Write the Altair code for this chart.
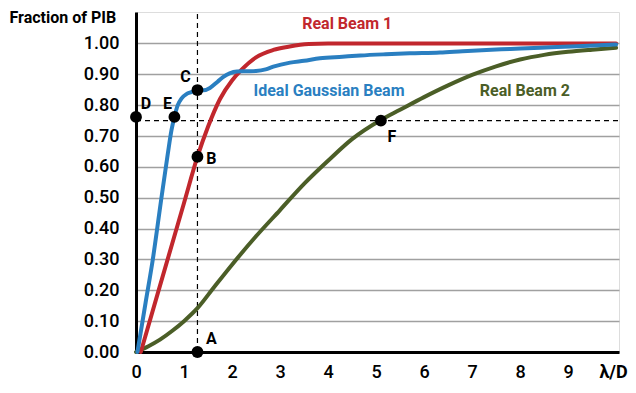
import altair as alt
import pandas as pd

# ---------------- data ----------------
blue_x = [0.03, 0.2, 0.35, 0.53, 0.66, 0.74, 0.80, 0.87, 0.95, 1.05, 1.15, 1.28, 1.4, 1.54, 1.7, 1.82, 1.95, 2.1, 2.3, 2.5, 2.7, 2.86, 3.21, 3.5, 3.83, 4.3, 4.67, 5.2, 5.7, 6.33, 6.8, 7.3, 7.8, 8.42, 9.2, 10.0]
blue_y = [0.0, 0.16, 0.3, 0.5, 0.64, 0.72, 0.762, 0.80, 0.822, 0.836, 0.842, 0.849, 0.848, 0.856, 0.876, 0.892, 0.903, 0.909, 0.91, 0.911, 0.916, 0.925, 0.938, 0.944, 0.952, 0.957, 0.961, 0.965, 0.968, 0.971, 0.975, 0.979, 0.982, 0.986, 0.991, 0.997]

red_x = [0.1, 0.5, 1.0, 1.28, 1.5, 1.75, 2.0, 2.2, 2.5, 2.86, 3.2, 3.6, 4.0, 5.0, 6.0, 7.0, 8.0, 9.0, 10.0]
red_y = [0.0, 0.215, 0.483, 0.633, 0.73, 0.82, 0.88, 0.915, 0.955, 0.979, 0.99, 0.998, 1.0, 1.0, 1.0, 1.0, 1.0, 1.0, 1.0]

green_x = [0.0, 0.25, 0.5, 0.75, 1.0, 1.28, 1.6, 2.0, 2.5, 3.0, 3.5, 4.0, 4.5, 5.1, 5.5, 6.0, 6.5, 7.0, 7.5, 8.0, 8.5, 9.0, 9.5, 10.0]
green_y = [0.0, 0.018, 0.04, 0.068, 0.1, 0.142, 0.205, 0.283, 0.375, 0.46, 0.545, 0.62, 0.69, 0.752, 0.785, 0.826, 0.864, 0.898, 0.926, 0.948, 0.963, 0.973, 0.98, 0.986]

series_names = ["Real Beam 1", "Ideal Gaussian Beam", "Real Beam 2"]
series_label_x = [4.4, 4.02, 8.1]
series_label_y = [1.062, 0.845, 0.847]

point_names = ["A", "B", "C", "D", "E", "F"]
point_x = [1.28, 1.28, 1.28, 0.0, 0.80, 5.10]
point_y = [0.0, 0.633, 0.849, 0.762, 0.762, 0.750]

guide_x = 1.28      # vertical dashed guide through A, B, C
guide_y = 0.75      # horizontal dashed guide through F

y_ticks = [0.0, 0.1, 0.2, 0.3, 0.4, 0.5, 0.6, 0.7, 0.8, 0.9, 1.0]
x_ticks = [0, 1, 2, 3, 4, 5, 6, 7, 8, 9, 10]

# ---------------- style ----------------
FONT = "Roboto"
RED = "#c1272d"
BLUE = "#2a7fc1"
GREEN = "#4b5e27"

X_MAX = 10.06
Y_MAX = 1.102

xscale = alt.Scale(domain=[0, X_MAX], nice=False, zero=False)
yscale = alt.Scale(domain=[0, Y_MAX], nice=False, zero=False)

xaxis = alt.Axis(
    values=x_ticks, grid=False, ticks=False, domain=True, domainColor="black",
    domainWidth=3, labelFont=FONT, labelFontSize=18, labelColor="black",
    labelFontWeight={"condition": {"test": "datum.value == 10", "value": "bold"}, "value": 500},
    labelOffset={"condition": {"test": "datum.value == 10", "value": -3}, "value": 0},
    labelPadding=11, labelExpr="datum.value == 10 ? 'λ/D' : datum.label",
    title=None, labelFlush=False,
)
yaxis = alt.Axis(
    values=y_ticks, format=".2f", grid=True, gridColor="#a0a0a0", gridWidth=1.5,
    ticks=False, domain=True, domainColor="black", domainWidth=3,
    labelFont=FONT, labelFontSize=18, labelFontWeight=500, labelColor="black", labelPadding=17,
    title="Fraction of PIB", titleFont=FONT, titleFontSize=16, titleFontWeight="bold",
    titleColor="black", titleAngle=0, titleAlign="left", titleBaseline="middle",
    titleX=-127, titleY=5,
)


def X(field="x"):
    return alt.X(f"{field}:Q", scale=xscale, axis=xaxis)


def Y(field="y"):
    return alt.Y(f"{field}:Q", scale=yscale, axis=yaxis)


def curve(xs, ys, color):
    df = pd.DataFrame({"x": xs, "y": ys})
    return alt.Chart(df).mark_line(
        color=color, strokeWidth=4, interpolate="monotone", strokeCap="round"
    ).encode(x=X(), y=Y())


layers = []

# dashed guides
vdf = pd.DataFrame({"x": [guide_x], "y": [0.0], "y2": [Y_MAX]})
layers.append(
    alt.Chart(vdf).mark_rule(color="black", strokeWidth=1.2, strokeDash=[5, 4]).encode(
        x=X(), y=Y(), y2="y2:Q")
)
hdf = pd.DataFrame({"x": [0.0], "x2": [X_MAX], "y": [guide_y]})
layers.append(
    alt.Chart(hdf).mark_rule(color="black", strokeWidth=1.2, strokeDash=[5, 4]).encode(
        x=X(), x2="x2:Q", y=Y())
)

layers.append(curve(green_x, green_y, GREEN))
layers.append(curve(red_x, red_y, RED))
layers.append(curve(blue_x, blue_y, BLUE))

# series labels
for name, lx, ly, col in zip(series_names, series_label_x, series_label_y, [RED, BLUE, GREEN]):
    df = pd.DataFrame({"x": [lx], "y": [ly], "t": [name]})
    layers.append(
        alt.Chart(df).mark_text(font=FONT, fontSize=16, fontWeight="bold", color=col,
                                align="center", baseline="middle").encode(
            x=X(), y=Y(), text="t:N")
    )

# points
pdf = pd.DataFrame({"x": point_x, "y": point_y, "t": point_names})
layers.append(
    alt.Chart(pdf).mark_point(filled=True, color="black", size=140, opacity=1, shape="circle").encode(
        x=X(), y=Y())
)

label_offsets = {"A": (14, -13), "B": (14, 2), "C": (-12, -13), "D": (10, -13), "E": (-7, -13), "F": (11, 16)}
for name, px, py in zip(point_names, point_x, point_y):
    dx, dy = label_offsets[name]
    df = pd.DataFrame({"x": [px], "y": [py], "t": [name]})
    layers.append(
        alt.Chart(df).mark_text(font=FONT, fontSize=16, fontWeight="bold", color="black",
                                align="center", baseline="middle", dx=dx, dy=dy).encode(
            x=X(), y=Y(), text="t:N")
    )

chart = alt.layer(*layers).properties(
    width=483, height=340,
    autosize=alt.AutoSizeParams(type="none"),
    padding={"left": 128, "top": 4, "right": 9, "bottom": 33},
).configure_view(stroke="black", strokeWidth=2.5).configure(background="white")

chart.save("out.html", embed_options={"renderer": "svg", "actions": False})
